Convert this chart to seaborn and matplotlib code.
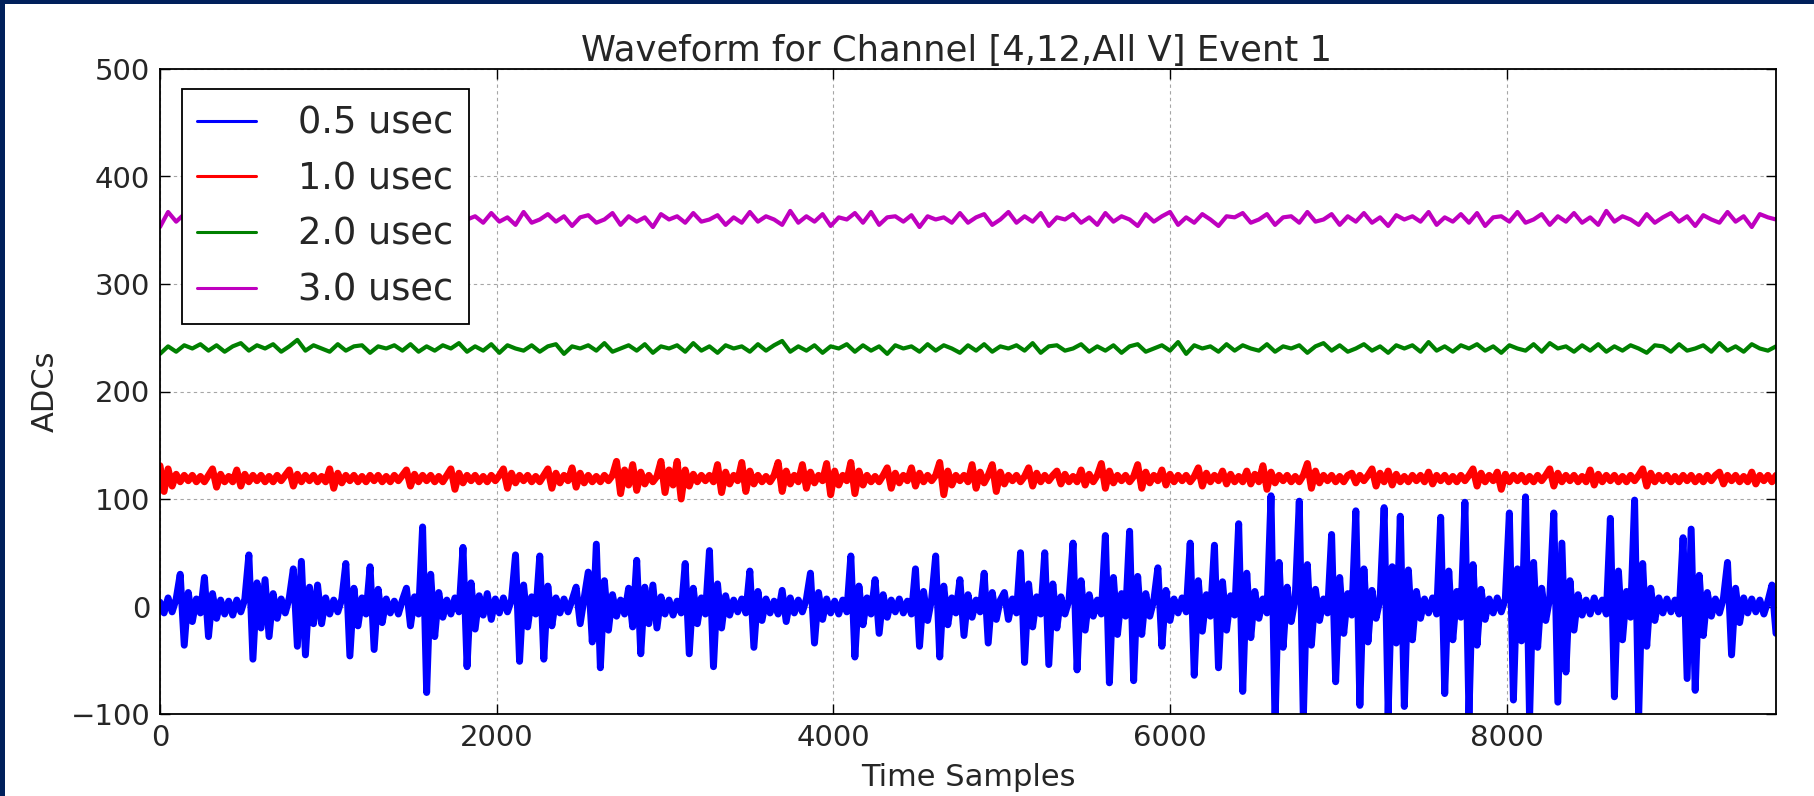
import numpy as np
import pandas as pd
import matplotlib
matplotlib.use("Agg")
import matplotlib.pyplot as plt
import seaborn as sns
from matplotlib.patches import Rectangle
from matplotlib.lines import Line2D

# ---------------- data ----------------
series_labels = ["0.5 usec", "1.0 usec", "2.0 usec", "3.0 usec"]
series_colors = ["#0000ff", "#ff0000", "#008000", "#bf00bf"]
title_text = "Waveform for Channel [4,12,All V] Event 1"
x_label = "Time Samples"
y_label = "ADCs"
x_ticks = [0, 2000, 4000, 6000, 8000]
y_ticks = [-100, 0, 100, 200, 300, 400, 500]

step_fast = 24   # samples between read points, 0.5 / 1.0 usec traces
step_slow = 48   # samples between read points, 2.0 / 3.0 usec traces

base_blue = 0
base_red = 119
base_green = 240
base_mag = 360

blue_dev = [
    4, -6, 8, -5, 7, 30, -36, 13, -14, 7, -6, 27, -28, 12, -11, 6, -7, 5, -8, 6,
    -5, 7, 48, -49, 22, -20, 25, -28, 12, -11, 7, -6, 8, 35, -37, 42, -45, 18, -16, 20,
    -16, 8, -7, 6, -5, 7, 40, -46, 17, -18, 8, -7, 37, -40, 16, -15, 7, -6, 5, -7,
    6, 17, -18, 9, -7, 74, -80, 30, -28, 13, -10, 6, -7, 8, -5, 55, -56, 22, -21, 10,
    -8, 12, -12, 7, -6, 8, -5, 6, 48, -51, 20, -19, 9, -7, 47, -49, 19, -18, 8, -6,
    7, -5, 6, 18, -16, 8, 32, -33, 58, -57, 24, -22, 11, -9, 6, -7, 17, -19, 43, -44,
    18, -16, 20, -20, 9, -7, 6, -8, 5, -6, 40, -44, 17, -16, 8, -7, 52, -56, 21, -20,
    10, -8, 6, -5, 7, -6, 33, -38, 14, -13, 7, -6, 5, -7, 15, -14, 8, -6, 6, -5,
    7, 31, -34, 13, -12, 7, -6, 5, -7, 6, -5, 47, -47, 19, -17, 8, -7, 25, -25, 11,
    -10, 6, -5, 7, -6, 5, -7, 35, -37, 14, -13, 7, 47, -47, 19, -17, 8, -6, 25, -27,
    11, -10, 6, -5, 31, -34, 13, -12, 6, 13, -12, 7, -6, 50, -52, 21, -19, 9, -7, 50,
    -54, 21, -20, 9, -7, 6, 59, -59, 24, -22, 11, -9, 6, -7, 66, -71, 27, -26, 12, -9,
    70, -69, 28, -26, 12, -9, 6, 36, -37, 15, -13, 7, -6, 8, -5, 59, -64, 24, -23, 11,
    -9, 57, -57, 23, -22, 10, -8, 77, -79, 31, -29, 14, -11, 7, -6, 103, -110, 41, -38, 18,
    -14, 8, 98, -105, 39, -36, 16, -13, 7, -6, 67, -70, 27, -25, 12, -8, 89, -92, 35, -33,
    15, -11, 7, 92, -100, 37, -34, 84, -93, 34, -31, 14, -11, 7, -6, 8, -7, 83, -81, 33,
    -31, 14, -10, 97, -102, 39, -36, 16, -12, 7, -6, 8, -5, 7, 87, -87, 35, -32, 102, -105,
    41, -38, 17, -13, 8, 87, -89, 59, -61, 24, -22, 11, -8, 6, -7, 8, -5, 6, -7, 82,
    -84, 33, -31, 14, -10, 99, -103, 40, -37, 17, -13, 8, -6, 7, -5, 6, -7, 64, -67, 72,
    -78, 29, -27, 13, -9, 7, -6, 8, 41, -45, 17, -15, 8, -6, 7, -5, 6, -7, 5, 20, -25,
]

red_dev = [
    12, -12, 9, -7, 4, -3, 3, -2, 3, -3, 2, -3, 3, 9, -8, 4, -3, 2, -3, 8,
    -7, 4, -3, 3, -2, 3, -3, 2, -3, 3, -2, 3, 8, -7, 4, -3, 3, -2, 3, -3,
    2, -3, 9, -9, 5, -4, 3, -2, 3, -3, 2, -3, 3, -2, 3, -3, 2, -3, 3, -2,
    3, 8, -7, 4, -3, 3, -2, 3, -3, 2, -3, 3, 9, -10, 5, -4, 3, -2, 3, -3,
    2, -3, 3, -2, 3, 9, -9, 5, -4, 3, -2, 3, -3, 2, -3, 3, 9, -9, 5, -4,
    3, -2, 10, -8, 5, -4, 3, -3, 2, -3, 3, -2, 3, 16, -14, 8, -6, 13, -11, 6,
    -5, 3, -3, 2, 16, -13, 8, -6, 16, -19, 8, -7, 4, -3, 3, -2, 3, -3, 13, -13,
    6, -5, 3, -2, 15, -12, 7, -5, 3, -3, 2, -3, 3, 15, -12, 7, -5, 3, -3, 13,
    -9, 6, -4, 3, -2, 14, -15, 7, -6, 3, -2, 15, -14, 7, -6, 3, -3, 2, -3, 3,
    10, -9, 5, -4, 3, -2, 10, -7, 5, -3, 3, -2, 3, 15, -15, 7, -6, 3, -2, 3,
    -3, 13, -9, 6, -4, 3, 13, -12, 6, -5, 3, -2, 3, -3, 2, 10, -7, 5, -3, 3,
    -2, 3, 7, -5, 4, -3, 2, -3, 8, -6, 4, -3, 3, 14, -9, 7, -4, 3, -2, 3,
    -3, 2, 13, -9, 6, -4, 3, -2, 8, -6, 4, -3, 3, -2, 3, -3, 2, 10, -7, 5,
    -3, 3, -2, 7, -5, 4, -3, 2, -3, 7, -5, 4, -3, 12, -10, 6, -4, 3, -2, 3,
    -3, 2, -3, 3, 14, -9, 7, -4, 3, -2, 3, -3, 2, -3, 3, 5, -4, 3, -2, 3,
    9, -7, 5, -3, 7, -6, 4, -3, 2, -3, 3, -2, 3, -3, 6, -5, 3, -2, 3, -3,
    2, -3, 3, -2, 3, 9, -7, 5, -3, 3, -2, 6, -10, 4, -3, 3, -2, 3, -3, 2,
    -3, 3, -2, 3, 9, -7, 5, -3, 3, -2, 3, -3, 2, -3, 8, -6, 4, -3, 3, -2,
    3, -3, 2, -3, 3, -2, 3, 9, -7, 5, -3, 3, -2, 3, -3, 2, -3, 3, -2, 3,
    -3, 2, -3, 3, -2, 3, 6, -5, 3, -2, 3, -3, 2, -3, 6, -5, 3, -2, 3, -3, 3,
]

green_dev = [
    -5, 2, -3, 3, 0, 4, -2, 3, -3, 2, 5, -2, 3, 0, 4, -3, 2, 8, -2, 3,
    0, -3, 4, -2, 2, 3, -4, 2, 0, 3, -2, 4, -3, 2, -2, 3, 0, 5, -3, 2,
    -2, 4, -4, 3, 0, -2, 3, -3, 2, 4, -5, 2, 0, 3, -2, 5, -3, 0, 3, -2,
    4, -4, 2, 0, 3, -3, 5, -2, 2, -4, 3, 0, 2, -3, 4, -2, 3, 7, -3, 2,
    -2, 3, -4, 2, 0, 4, -3, 3, -2, 2, -5, 3, 0, 2, -3, 4, -2, 3, 0, -4,
    3, -2, 4, -3, 2, 0, 3, -2, 5, -4, 2, 3, -2, 0, 4, -3, 2, -2, 3, -4,
    2, 4, -3, 0, 3, -2, 6, -5, 3, 0, 2, -3, 4, -2, 3, 0, -2, 4, -3, 2,
    0, 3, -4, 2, 5, -2, 3, -3, 0, 4, -2, 2, -4, 3, 0, 3, -3, 6, -2, 2,
    -3, 3, 0, 4, -2, 2, -4, 3, 0, -2, 4, -3, 5, 0, 2, -3, 3, -2, 4, -3,
    2, -2, 3, 0, -4, 3, 2, -3, 4, -2, 0, 3, -3, 5, -2, 2, -3, 4, 0, -2,
    2,
]

mag_dev = [
    -7, 7, -2, 5, -3, 2, -5, 6, -3, 7, -2, 3, -6, 4, 0, 7, -3, 2, -5, 6,
    -2, 5, -7, 3, 0, 6, -3, 2, 7, -5, 3, -2, 5, -6, 2, 3, -7, 4, 0, 3,
    -3, 6, -2, 2, -5, 7, -3, 0, 5, -2, 3, -6, 2, 4, -3, 0, 6, -5, 3, -2,
    2, -7, 5, 0, 3, -3, 6, -2, 0, 4, -5, 2, -3, 7, -2, 3, 0, -5, 8, -3,
    3, -2, 5, -6, 2, 0, 6, -3, 7, -5, 2, 3, -2, 4, -7, 3, 0, 2, -3, 6,
    -3, 2, 5, -5, 0, 7, -3, 3, -2, 6, -6, 2, 0, 5, -3, 2, -5, 6, -2, 3,
    0, -6, 5, -2, 3, 7, -5, 2, -3, 5, 0, -6, 3, 2, 6, -3, 0, 5, -5, 2,
    3, -3, 7, -2, 0, 5, -5, 3, -2, 6, -3, 2, -6, 4, 0, 3, -2, 7, -5, 2,
    -2, 5, -3, 6, -6, 2, 3, -2, 7, -3, 0, 5, -5, 3, -2, 6, -3, 2, -5, 8,
    -2, 3, 0, -5, 5, -3, 2, 6, -2, 3, -6, 4, 0, -3, 7, -2, 3, -7, 5, 2,
    0,
]

series_table = [
    (series_labels[0], series_colors[0], base_blue, blue_dev, step_fast, 5.0),
    (series_labels[1], series_colors[1], base_red, red_dev, step_fast, 5.0),
    (series_labels[2], series_colors[2], base_green, green_dev, step_slow, 3.0),
    (series_labels[3], series_colors[3], base_mag, mag_dev, step_slow, 3.0),
]

# ---------------- style ----------------
sns.set_style("ticks")
plt.rcParams["font.family"] = ["DejaVu Sans"]
plt.rcParams.update({
    "xtick.direction": "in",
    "ytick.direction": "in",
    "xtick.top": True,
    "ytick.right": True,
    "xtick.major.size": 7,
    "ytick.major.size": 7,
    "xtick.major.width": 1.0,
    "ytick.major.width": 1.0,
    "xtick.color": "black",
    "ytick.color": "black",
    "axes.edgecolor": "black",
    "text.color": "#262626",
})

fig = plt.figure(figsize=(18.14, 7.96), dpi=100)
ax = fig.add_axes([160 / 1814, 1 - 714 / 796, (1776 - 160) / 1814, (714 - 69) / 796])

for label, color, base, dev, step, lw in series_table:
    dev = np.asarray(dev, dtype=float)
    sub = pd.DataFrame({"t": np.arange(len(dev)) * step, "adc": base + dev})
    n_before = len(ax.lines)
    sns.lineplot(data=sub, x="t", y="adc", color=color,
                 estimator=None, sort=False, label=label, ax=ax)
    for ln in ax.lines[n_before:]:
        ln.set_linewidth(lw)
        ln.set_solid_joinstyle("round")
        ln.set_solid_capstyle("round")

ax.set_xlim(0, 9600)
ax.set_ylim(-100, 500)
ax.set_xticks(x_ticks)
ax.set_yticks(y_ticks)
ax.tick_params(labelsize=21, pad=7, colors="black", labelcolor="#262626")
ax.grid(True, color="0.65", linestyle=(0, (3, 3)), linewidth=0.8)
ax.set_axisbelow(True)
for sp in ax.spines.values():
    sp.set_linewidth(1.3)
    sp.set_color("black")

ax.set_title(title_text, fontsize=25.5, pad=6, color="#262626", x=0.493)
ax.set_xlabel(x_label, fontsize=22, labelpad=8, color="#262626")
ax.set_ylabel(y_label, fontsize=22, labelpad=7.5, color="#262626")

handles = [Line2D([], [], color=c, linewidth=2.2) for c in series_colors]
leg = ax.legend(
    handles=handles, labels=series_labels, loc="upper left",
    bbox_to_anchor=(22 / 1616, 1 - 20 / 645), borderaxespad=0,
    fontsize=26.5, frameon=True, fancybox=False, framealpha=1,
    edgecolor="black", handlelength=1.58, handletextpad=1.15,
    labelspacing=0.51, borderpad=0.42,
)
leg.get_frame().set_linewidth(1.3)

# navy frame of the picture (left and top edges)
navy = "#00205b"
fig.patches.append(Rectangle((0, 0), 5 / 1814, 1, transform=fig.transFigure,
                             facecolor=navy, edgecolor="none", zorder=10))
fig.patches.append(Rectangle((0, 1 - 4 / 796), 1, 4 / 796, transform=fig.transFigure,
                             facecolor=navy, edgecolor="none", zorder=10))

fig.savefig("out.png", dpi=100, facecolor="white")
